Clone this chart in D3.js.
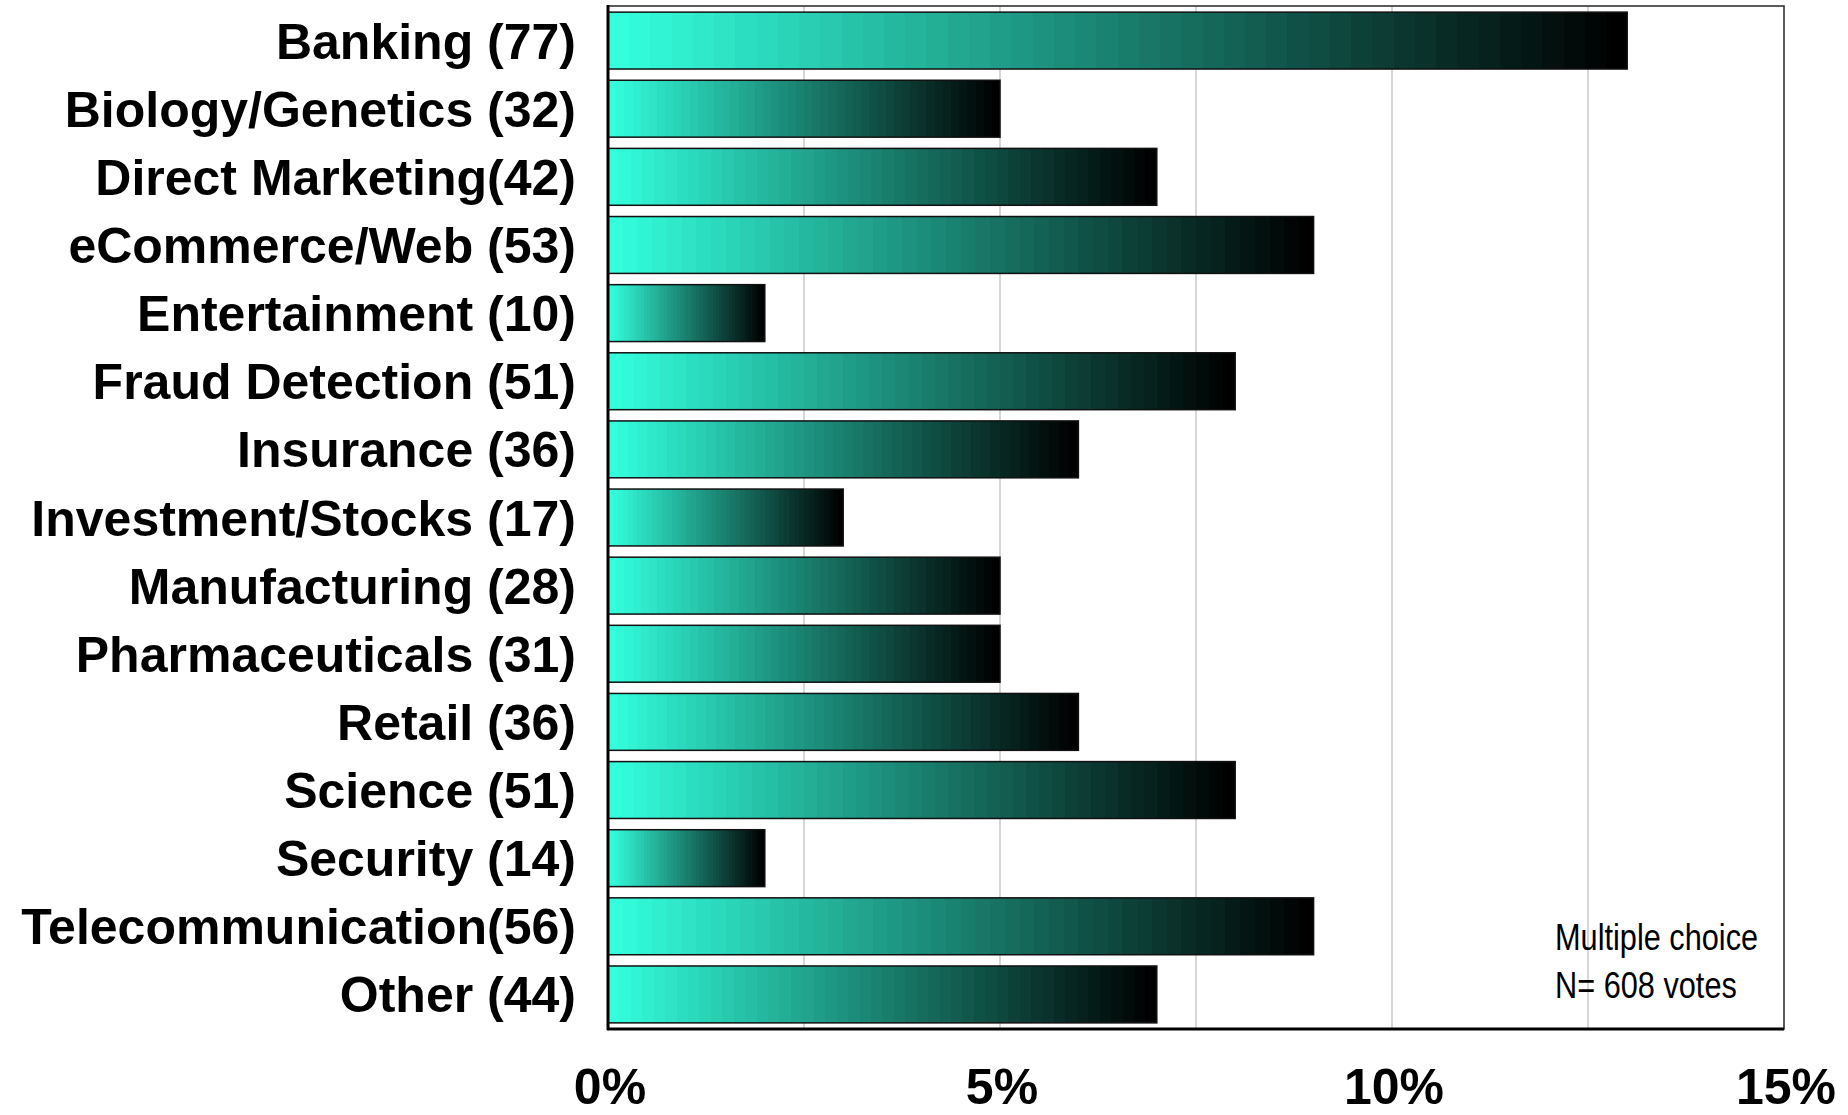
<!DOCTYPE html>
<html>
<head>
<meta charset="utf-8">
<script src="https://cdn.jsdelivr.net/npm/d3@7"></script>
<style>
html,body{margin:0;padding:0;background:#fff;}
svg{display:block;}
</style>
</head>
<body>
<script>
const categories = ["Banking (77)","Biology/Genetics (32)","Direct Marketing(42)","eCommerce/Web (53)","Entertainment (10)","Fraud Detection (51)","Insurance (36)","Investment/Stocks (17)","Manufacturing (28)","Pharmaceuticals (31)","Retail (36)","Science (51)","Security (14)","Telecommunication(56)","Other (44)"];
const values = [13,5,7,9,2,8,6,3,5,5,6,8,2,9,7];
const tickValues = [0,5,10,15];
const gridValues = [2.5,5,7.5,10,12.5];
const noteLines = ["Multiple choice","N= 608 votes"];

const W = 1848, H = 1115;
const pLeft = 608, pRight = 1784, pTop = 6, pBottom = 1029;

const svg = d3.select("body").append("svg").attr("width", W).attr("height", H);

const x = d3.scaleLinear().domain([0,15]).range([pLeft,pRight]);
const y = d3.scaleBand().domain(categories).range([pTop,pBottom]).paddingInner(0.165).paddingOuter(0.09);

// stepped gradient cyan -> black
const defs = svg.append("defs");
const grad = defs.append("linearGradient").attr("id","barGrad")
  .attr("x1","0").attr("y1","0").attr("x2","1").attr("y2","0");
const N = 48;
const interp = d3.interpolateRgb("rgb(51,255,221)","rgb(0,0,0)");
for (let i=0;i<N;i++){
  const c = interp(i/(N-1));
  grad.append("stop").attr("offset", (i/N)).attr("stop-color", c);
  grad.append("stop").attr("offset", ((i+1)/N)).attr("stop-color", c);
}

// grid
svg.append("g").selectAll("line").data(gridValues).join("line")
  .attr("x1", d=>x(d)).attr("x2", d=>x(d))
  .attr("y1", pTop).attr("y2", pBottom)
  .attr("stroke","#bdbdbd").attr("stroke-width",1.2);

// frame
svg.append("rect").attr("x",pLeft).attr("y",pTop).attr("width",pRight-pLeft).attr("height",pBottom-pTop)
  .attr("fill","none").attr("stroke","#333").attr("stroke-width",1.6);

// bars
svg.append("g").selectAll("rect").data(categories).join("rect")
  .attr("x", x(0))
  .attr("y", d=>y(d))
  .attr("width", (d,i)=>x(values[i])-x(0))
  .attr("height", y.bandwidth())
  .attr("fill","url(#barGrad)")
  .attr("stroke","#111").attr("stroke-width",1.5);

// axis lines
svg.append("line").attr("x1",pLeft).attr("x2",pLeft).attr("y1",pTop-1).attr("y2",pBottom+1)
  .attr("stroke","#000").attr("stroke-width",3);
svg.append("line").attr("x1",pLeft-1).attr("x2",pRight).attr("y1",pBottom).attr("y2",pBottom)
  .attr("stroke","#000").attr("stroke-width",3);

// category labels
svg.append("g").selectAll("text").data(categories).join("text")
  .attr("x", 576)
  .attr("y", d=>y(d)+y.bandwidth()/2)
  .attr("dy","0.36em")
  .attr("text-anchor","end")
  .attr("font-family","'Liberation Sans', Arial, sans-serif")
  .attr("font-weight","bold")
  .attr("font-size",50)
  .attr("fill","#000")
  .text(d=>d);

// tick labels
svg.append("g").selectAll("text").data(tickValues).join("text")
  .attr("x", d=>x(d)+2)
  .attr("y", 1104)
  .attr("text-anchor","middle")
  .attr("font-family","'Liberation Sans', Arial, sans-serif")
  .attr("font-weight","bold")
  .attr("font-size",50)
  .attr("fill","#000")
  .text(d=>d+"%");

// note
const note = svg.append("g").attr("transform","translate(1555,0)");
note.selectAll("text").data(noteLines).join("text")
  .attr("transform",(d,i)=>`translate(0,${950+i*48}) scale(0.83,1)`)
  .attr("font-family","'Liberation Sans', Arial, sans-serif")
  .attr("font-size",37)
  .attr("fill","#000")
  .text(d=>d);
</script>
</body>
</html>
